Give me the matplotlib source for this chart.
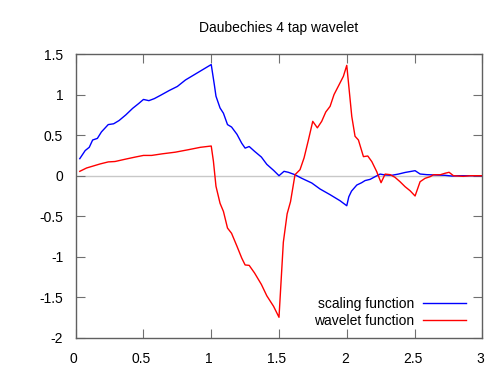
import matplotlib
matplotlib.use("Agg")
import matplotlib.pyplot as plt
from matplotlib.transforms import ScaledTranslation

# values
scaling_x = [0.03, 0.07, 0.10, 0.125, 0.16, 0.19, 0.24, 0.28, 0.32, 0.37, 0.42, 0.465,
             0.50, 0.54, 0.58, 0.625, 0.69, 0.75, 0.81, 0.87, 0.93, 1.0, 1.023, 1.035,
             1.065, 1.09, 1.12, 1.15, 1.19, 1.225, 1.25, 1.28, 1.32, 1.37, 1.41, 1.46,
             1.50, 1.537, 1.569, 1.618, 1.668, 1.742, 1.803, 1.877, 1.95, 2.0, 2.015,
             2.035, 2.074, 2.11, 2.135, 2.172, 2.209, 2.246, 2.283, 2.332, 2.381, 2.43,
             2.504, 2.541, 2.59, 2.652, 2.725, 2.775, 2.823, 3.0]
scaling_y = [0.21, 0.31, 0.35, 0.44, 0.46, 0.54, 0.63, 0.64, 0.68, 0.75, 0.83, 0.89,
             0.94, 0.925, 0.95, 0.99, 1.05, 1.10, 1.18, 1.24, 1.30, 1.37, 1.12, 0.98,
             0.835, 0.77, 0.63, 0.60, 0.51, 0.40, 0.34, 0.36, 0.30, 0.23, 0.14, 0.066,
             0.0, 0.054, 0.042, 0.012, -0.032, -0.09, -0.164, -0.234, -0.308, -0.37, -0.26,
             -0.19, -0.115, -0.086, -0.06, -0.045, -0.012, 0.02, 0.009, 0.005, 0.02, 0.04,
             0.062, 0.021, 0.013, 0.009, 0.005, -0.004, 0.0, 0.0]

wavelet_x = [0.03, 0.08, 0.13, 0.18, 0.24, 0.29, 0.37, 0.44, 0.50, 0.56, 0.64, 0.735,
             0.83, 0.92, 1.0, 1.016, 1.035, 1.065, 1.09, 1.12, 1.15, 1.19, 1.225, 1.25,
             1.28, 1.32, 1.37, 1.41, 1.46, 1.50, 1.532, 1.56, 1.585, 1.618, 1.655, 1.685,
             1.717, 1.749, 1.783, 1.815, 1.845, 1.877, 1.906, 1.943, 1.975, 2.0, 2.037,
             2.061, 2.086, 2.123, 2.155, 2.185, 2.221, 2.253, 2.283, 2.32, 2.356, 2.393,
             2.43, 2.467, 2.504, 2.541, 2.578, 2.615, 2.64, 2.69, 2.725, 2.755, 2.787,
             2.86, 2.91, 3.0]
wavelet_y = [0.054, 0.095, 0.12, 0.145, 0.17, 0.175, 0.205, 0.23, 0.25, 0.25, 0.27, 0.29,
             0.32, 0.35, 0.366, 0.18, -0.13, -0.34, -0.44, -0.645, -0.71, -0.87, -1.015,
             -1.10, -1.105, -1.20, -1.34, -1.48, -1.61, -1.745, -0.82, -0.47, -0.32, 0.012,
             0.074, 0.22, 0.44, 0.67, 0.59, 0.67, 0.785, 0.855, 1.0, 1.12, 1.225, 1.36,
             0.73, 0.486, 0.44, 0.235, 0.243, 0.173, 0.05, -0.086, 0.02, 0.013, -0.02,
             -0.074, -0.135, -0.185, -0.25, -0.074, -0.032, -0.012, 0.012, 0.012, 0.03,
             0.042, 0.0, -0.008, 0.0, 0.0]

x_ticks = [0, 0.5, 1, 1.5, 2, 2.5, 3]
x_labels = ["0", "0.5", "1", "1.5", "2", "2.5", "3"]
y_ticks = [-2, -1.5, -1, -0.5, 0, 0.5, 1, 1.5]
y_labels = ["-2", "-1.5", "-1", "-0.5", "0", "0.5", "1", "1.5"]

plt.rcParams["font.family"] = ["Liberation Sans", "DejaVu Sans"]
plt.rcParams["font.size"] = 10
plt.rcParams["axes.unicode_minus"] = False

fig = plt.figure(figsize=(5, 3.75), dpi=100)
ax = fig.add_axes([0.1514, 0.0987, 0.8132, 0.7573])

ax.axhline(0, color="#c8c8c8", lw=1.0, zorder=1)
ax.plot(scaling_x, scaling_y, color="blue", lw=1.0, label="scaling function", zorder=3)
ax.plot(wavelet_x, wavelet_y, color="red", lw=1.0, label="wavelet function", zorder=3)

ax.set_xlim(0, 3)
ax.set_ylim(-2, 1.5)
ax.set_xticks(x_ticks)
ax.set_xticklabels(x_labels)
ax.set_yticks(y_ticks)
ax.set_yticklabels(y_labels)
ax.tick_params(direction="in", length=6.5, width=0.8, color="#707070",
               top=True, right=True, labelsize=10, labelcolor="black")
ax.tick_params(axis="x", pad=10)
ax.tick_params(axis="y", pad=9)
# gnuplot puts the x labels a touch left of their ticks
shift = ScaledTranslation(-2 / 100, 0, fig.dpi_scale_trans)
for lab in ax.get_xticklabels():
    lab.set_transform(lab.get_transform() + shift)
for s in ax.spines.values():
    s.set_color("#606060")
    s.set_linewidth(1.0)

ax.set_title("Daubechies 4 tap wavelet", fontsize=10, pad=16)

ax.legend(loc="lower right", frameon=False, markerfirst=False, fontsize=10,
          handlelength=3.1, handletextpad=0.65, labelspacing=0.25,
          borderaxespad=0.3, bbox_to_anchor=(0.985, 0.0))

fig.savefig("out.png", dpi=100)
